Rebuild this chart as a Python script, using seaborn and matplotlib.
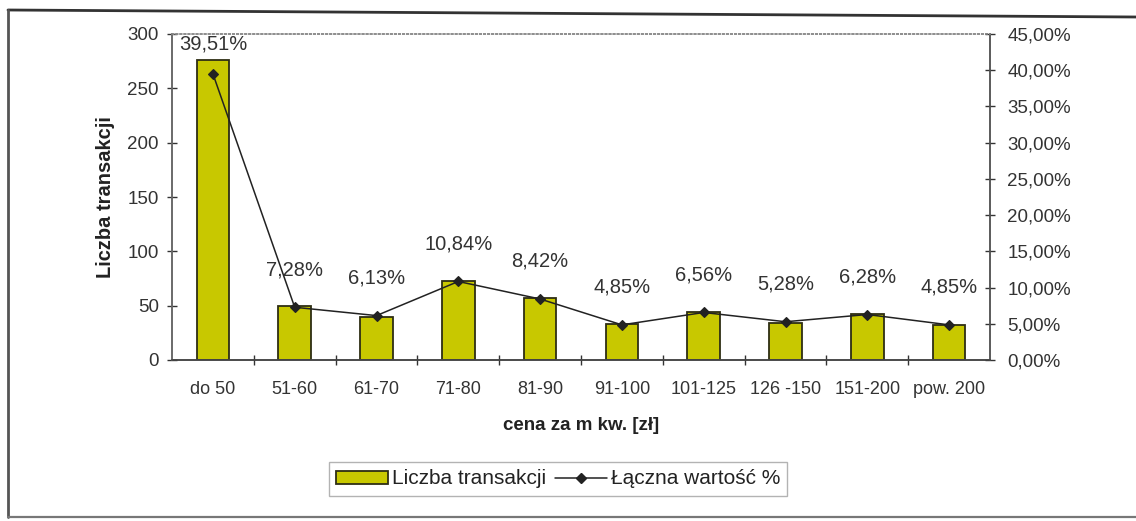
import matplotlib
matplotlib.use("Agg")
import matplotlib.pyplot as plt
from matplotlib.lines import Line2D
from matplotlib.patches import Patch
from matplotlib.ticker import FuncFormatter, FixedLocator
import seaborn as sns
import pandas as pd

# Price bands (PLN per square metre)
categories = ["do 50", "51-60", "61-70", "71-80", "81-90", "91-100",
              "101-125", "126 -150", "151-200", "pow. 200"]
# Number of transactions per band
transactions = [276, 50, 40, 73, 57, 33, 44, 34, 42, 32]
# Share of total transaction value per band, in percent
value_share = [39.51, 7.28, 6.13, 10.84, 8.42, 4.85, 6.56, 5.28, 6.28, 4.85]

left_ticks = list(range(0, 301, 50))
right_ticks = list(range(0, 46, 5))

df = pd.DataFrame({"cena": categories, "liczba": transactions, "udzial": value_share})

sns.set_theme(style="white")
plt.rcParams["font.family"] = ["Liberation Sans", "DejaVu Sans"]
plt.rcParams["text.color"] = "#222222"
plt.rcParams["axes.labelcolor"] = "#222222"
plt.rcParams["xtick.color"] = "#333333"
plt.rcParams["ytick.color"] = "#333333"

BAR = "#c8c800"
EDGE = "#2e2e14"
LINE = "#222222"
pct = lambda v: f"{v:.2f}%".replace(".", ",")

fig = plt.figure(figsize=(11.36, 5.21), dpi=100)
W, H = 1136, 521
ax = fig.add_axes([172 / W, 1 - 360 / H, (990 - 172) / W, (360 - 34) / H])

sns.barplot(data=df, x="cena", y="liczba", ax=ax, color=BAR, width=0.4,
            edgecolor=EDGE, linewidth=1.3, saturation=1)

ax2 = ax.twinx()
sns.pointplot(data=df, x="cena", y="udzial", ax=ax2, color=LINE,
              markers="D", markersize=5.5, linewidth=1.1)

ax.set_xlim(-0.5, len(categories) - 0.5)
ax.set_ylim(0, 300)
ax2.set_ylim(0, 45)

# data labels above the value-share line
for i, v in enumerate(value_share):
    ax2.text(i, min(v + 5.2, 43.6), pct(v), ha="center", va="center",
             fontsize=14.5, color="#333333")

# left axis
ax.set_yticks(left_ticks)
ax.tick_params(axis="y", left=True, direction="inout", length=7, width=1,
               labelsize=13.5, pad=6)
ax.set_ylabel("Liczba transakcji", fontsize=14.5, fontweight="bold", labelpad=9)

# right axis
ax2.set_yticks(right_ticks)
ax2.yaxis.set_major_formatter(FuncFormatter(lambda v, p: pct(v)))
ax2.tick_params(axis="y", right=True, direction="inout", length=7, width=1,
                labelsize=13.5, pad=9)
ax2.set_ylabel("")

# category axis: labels at centres, tick marks between bars
ax.set_xticks(range(len(categories)))
ax.set_xticklabels(categories)
ax.xaxis.set_minor_locator(FixedLocator([i + 0.5 for i in range(len(categories) - 1)]))
ax.tick_params(axis="x", which="major", length=0, labelsize=13, pad=15)
ax.tick_params(axis="x", which="minor", bottom=True, direction="inout", length=7, width=1)
ax.set_xlabel("cena za m kw. [zł]", fontsize=13.5, fontweight="bold", labelpad=14)
ax2.set_xlabel("")

for a in (ax, ax2):
    a.spines["top"].set_color("#8a8a8a")
    a.spines["top"].set_linestyle(":")
    a.spines["left"].set_color("#666666")
    a.spines["bottom"].set_color("#444444")
    a.spines["right"].set_color("#555555")
    for s in a.spines.values():
        s.set_linewidth(1.1)

handles = [
    Patch(facecolor=BAR, edgecolor=EDGE, linewidth=1.3, label="Liczba transakcji"),
    Line2D([], [], color=LINE, marker="D", markersize=5.5, linewidth=1.1,
           label="Łączna wartość %"),
]
leg = fig.legend(handles=handles, loc="center", bbox_to_anchor=(558 / W, 1 - 479 / H),
                 ncol=2, frameon=True, fancybox=False, fontsize=15,
                 handlelength=2.5, handleheight=0.6, columnspacing=0.4,
                 handletextpad=0.2, borderpad=0.35)
leg.get_frame().set_edgecolor("#a0a0a0")
leg.get_frame().set_linewidth(1.0)

# outer frame of the chart
fig.add_artist(Line2D([8 / W, 1], [1 - 10 / H, 1 - 17 / H], transform=fig.transFigure,
                      color="#333333", lw=2))
fig.add_artist(Line2D([8 / W, 8 / W], [1 - 10 / H, 1 - 517 / H], transform=fig.transFigure,
                      color="#555555", lw=2))
fig.add_artist(Line2D([8 / W, 1], [1 - 517 / H, 1 - 517 / H], transform=fig.transFigure,
                      color="#777777", lw=1.6))

fig.savefig("out.png", dpi=100, facecolor="white")
